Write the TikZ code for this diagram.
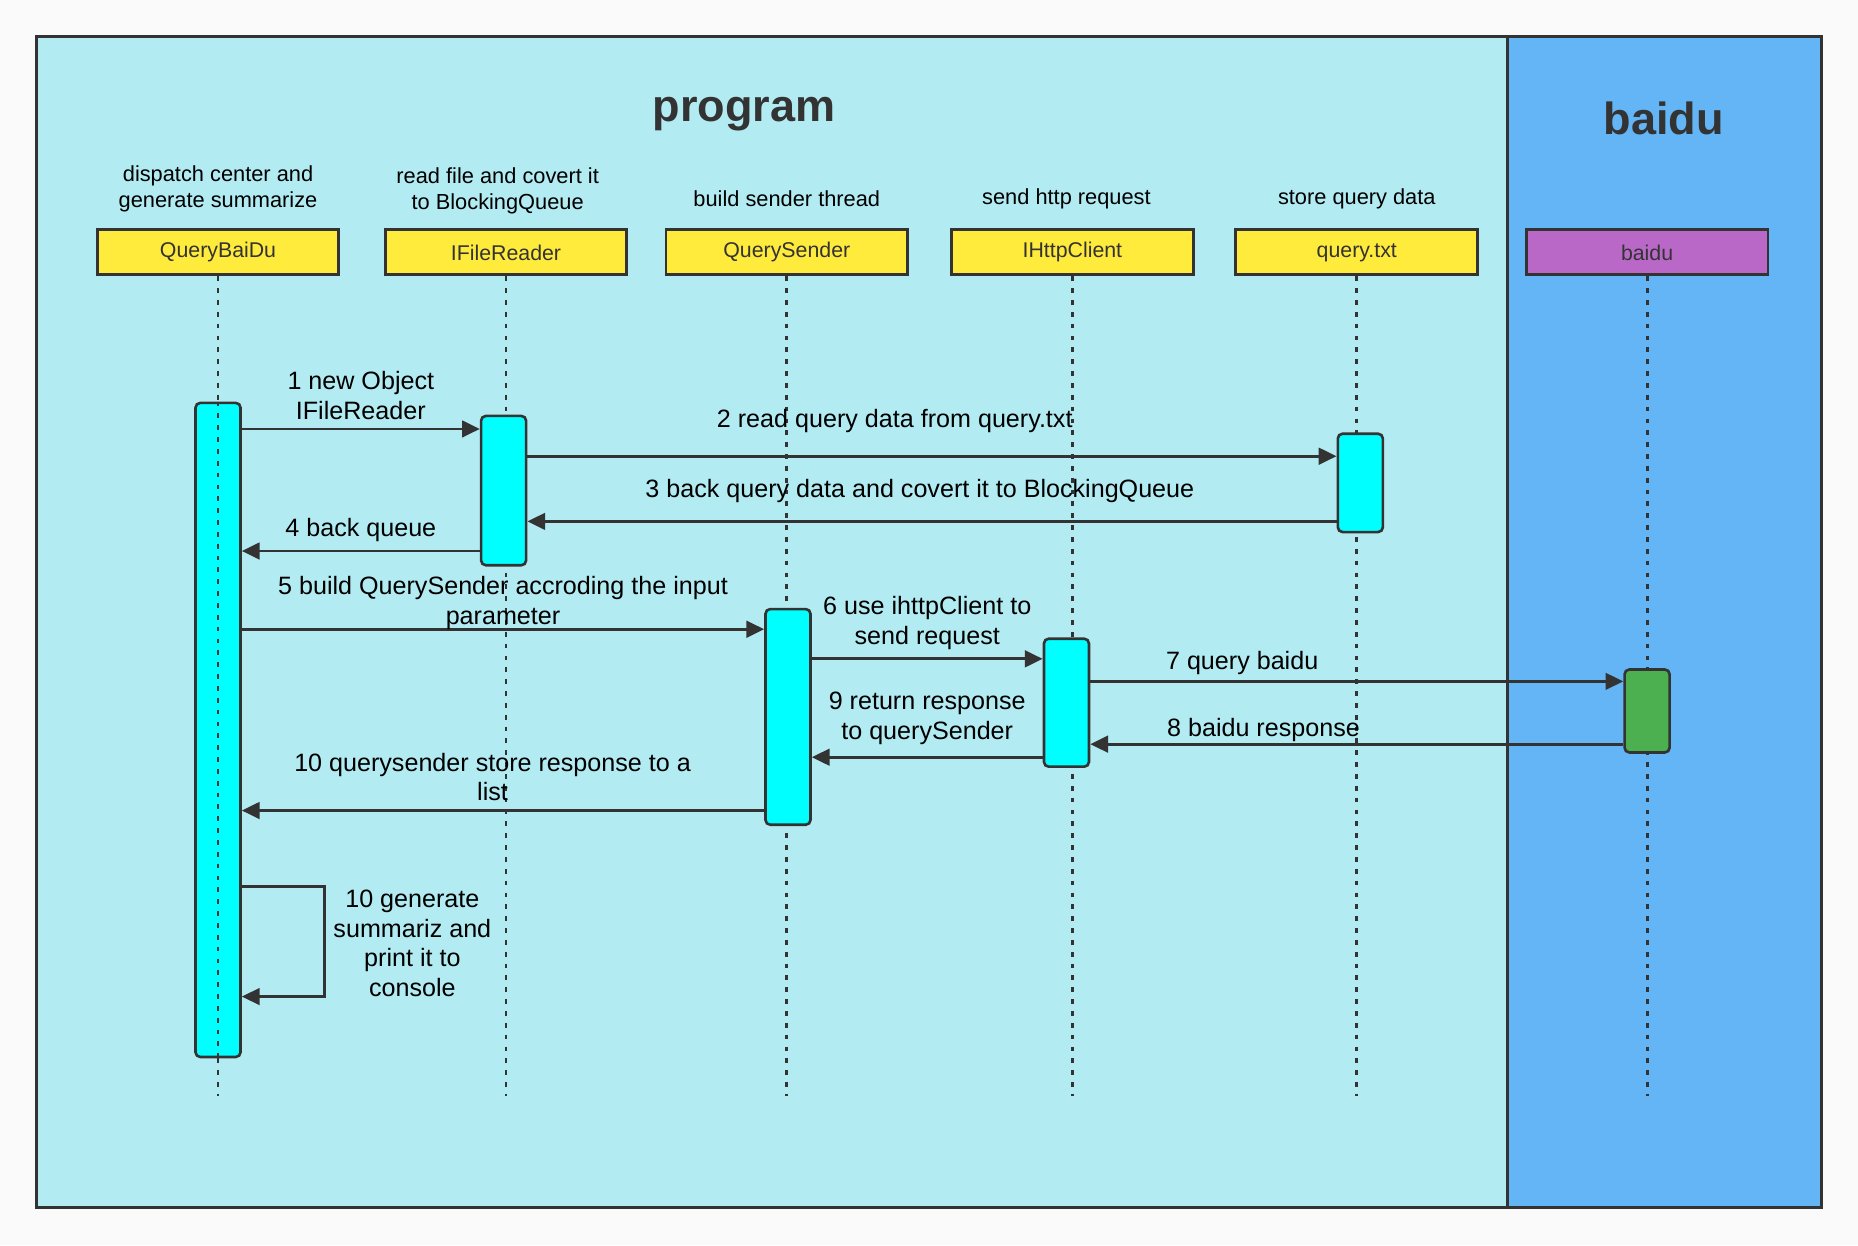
\documentclass[tikz,border=0pt]{standalone}
\usepackage{fontspec}
\setmainfont{Liberation Sans}
\usetikzlibrary{arrows.meta}
\usetikzlibrary{positioning}

\definecolor{paper}{HTML}{FAFAFA}
\definecolor{ink}{HTML}{333333}
\definecolor{progbg}{HTML}{B2EBF2}
\definecolor{baidubg}{HTML}{64B5F6}
\definecolor{headyellow}{HTML}{FFEB3B}
\definecolor{headpurple}{HTML}{BA68C8}
\definecolor{actcyan}{HTML}{00FFFF}
\definecolor{actgreen}{HTML}{4CAF50}

\begin{document}
\begin{tikzpicture}[x=0.5pt,y=-0.5pt,
    head/.style={
% The shape:
rectangle,
% The size:
minimum height=19pt,
minimum width=102pt,
% The border:
line width=1.2pt, draw=ink, fill=#1,
font=\fontsize{9}{10}\selectfont, text=ink
},
    bar/.style={
% The shape:
rectangle, rounded corners=2pt,
% The size:
minimum height=#1,
minimum width=19pt, inner sep=0pt,
% The border:
line width=1.1pt, draw=ink, fill=actcyan,
},
    note/.style={align=center, font=\fontsize{9.2}{11}\selectfont, text=black},
    lbl/.style={align=center, font=\fontsize{10.6}{12.5}\selectfont, text=black},
    title/.style={font=\fontsize{19}{22}\bfseries\selectfont, text=ink},
    life/.style={line width=1.2pt, draw=ink, dash pattern=on 2pt off 3pt},
    msg/.style={-{Triangle[length=7.5pt,width=7pt]}, line width=1.2pt, draw=ink},
]
  \fill[paper] (0,0) rectangle (1568,1051);
  \useasboundingbox (0,0) rectangle (1568,1051);

  % the two areas
  \fill[progbg] (31,31) rectangle (1272,1019);
  \fill[baidubg] (1272,31) rectangle (1537,1019);
  \draw[ink, line width=1.25pt] (31,31) rectangle (1537,1019);
  \draw[ink, line width=1.1pt] (1272,31) -- (1272,1019);

  \node[title] (progTitle) at (628, 96) {program};
  \node[title] (baiduTitle) at (1404, 100) {baidu};

  % heads
  \node[head=headyellow] (qb) at (184, 213)  {QueryBaiDu};
  \node[head=headyellow] (fr) at (427, 213)  {IFileReader};
  \node[head=headyellow] (qs) at (664, 213)  {QuerySender};
  \node[head=headyellow] (hc) at (905, 213)  {IHttpClient};
  \node[head=headyellow] (qt) at (1145, 213) {query.txt};
  \node[head=headpurple] (bd) at (1390, 213) {baidu};

  \node[note] (qbNote) at (184, 159)  {dispatch center and\\generate summarize};
  \node[note] (frNote) at (420, 161)  {read file and covert it\\to BlockingQueue};
  \node[note] (qsNote) at (664, 168)  {build sender thread};
  \node[note] (hcNote) at (900, 168)  {send http request};
  \node[note] (qtNote) at (1145, 168) {store query data};

  % lifelines
  \coordinate (lifeEnd) at (0, 925);
  \foreach \n in {qb,fr,qs,hc,qt,bd}
    \draw[life] (\n.south) -- (\n.south |- lifeEnd);

  % activations
  \node[bar=276pt]                (qbAct) at (184, 616)   {};
  \node[bar=63pt]                 (frAct) at (425, 414)   {};
  \node[bar=41.5pt]               (qtAct) at (1148, 407.5) {};
  \node[bar=91pt]                 (qsAct) at (665, 605)   {};
  \node[bar=54pt]                 (hcAct) at (900, 593)   {};
  \node[bar=35pt,fill=actgreen]   (bdAct) at (1390, 600)  {};
  \draw[life] (qbAct.north) -- (qbAct.south);

  % message levels
  \coordinate (m1) at (0,362);
  \coordinate (m2) at (0,385);
  \coordinate (m3) at (0,440);
  \coordinate (m4) at (0,465);
  \coordinate (m5) at (0,531);
  \coordinate (m6) at (0,556);
  \coordinate (m7) at (0,575);
  \coordinate (m8) at (0,628);
  \coordinate (m9) at (0,639);
  \coordinate (m10) at (0,684);
  \coordinate (m11) at (0,748);
  \coordinate (m12) at (0,841);

  \draw[msg] (qbAct.east |- m1) -- node[lbl,above] (l1) {1 new Object\\IFileReader} (frAct.west |- m1);
  \draw[msg] (frAct.east |- m2) -- node[lbl,above,pos=.454,yshift=6pt] (l2) {2 read query data from query.txt} (qtAct.west |- m2);
  \draw[msg] (qtAct.west |- m3) -- node[lbl,above,pos=.515,yshift=4pt] (l3) {3 back query data and covert it to BlockingQueue} (frAct.east |- m3);
  \draw[msg] (frAct.west |- m4) -- node[lbl,above] (l4) {4 back queue} (qbAct.east |- m4);
  \draw[msg] (qbAct.east |- m5) -- node[lbl,above,yshift=-4pt] (l5) {5 build QuerySender accroding the input\\parameter} (qsAct.west |- m5);
  \draw[msg] (qsAct.east |- m6) -- node[lbl,above] (l6) {6 use ihttpClient to\\send request} (hcAct.west |- m6);
  \draw[msg] (hcAct.east |- m7) -- node[lbl,above,pos=.285,yshift=-1pt] (l7) {7 query baidu} (bdAct.west |- m7);
  \draw[msg] (bdAct.west |- m8) -- node[lbl,above,pos=.675,yshift=-3pt] (l8) {8 baidu response} (hcAct.east |- m8);
  \draw[msg] (hcAct.west |- m9) -- node[lbl,above,yshift=1.5pt] (l9) {9 return response\\to querySender} (qsAct.east |- m9);
  \draw[msg] (qsAct.west |- m10) -- node[lbl,above,pos=.52] (l10) {10 querysender store response to a\\list} (qbAct.east |- m10);
  \draw[msg] (qbAct.east |- m11) -- ++(70,0) |- (qbAct.east |- m12);
  \node[lbl] (l11) at (348, 796) {10 generate\\summariz and\\print it to\\console};
\end{tikzpicture}
\end{document}
